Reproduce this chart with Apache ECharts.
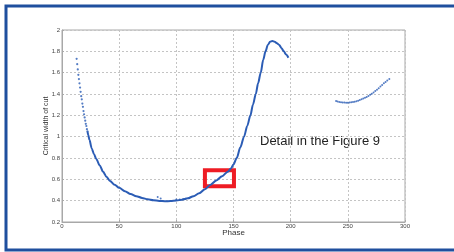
<!DOCTYPE html>
<html>
<head>
<meta charset="utf-8">
<style>
html,body{margin:0;padding:0;background:#fff;}
#c{width:454px;height:252px;}
</style>
<script src="https://cdn.jsdelivr.net/npm/echarts@6/dist/echarts.min.js"></script>
</head>
<body>
<div id="c"></div>
<script>
// Dotted head of the main curve (phase, critical width)
const headPhase = [12.8,13.3,13.8,14.3,14.8,15.3,15.8,16.3,16.8,17.3,17.8,18.3,18.8,19.3,19.8,20.3,20.8,21.3,21.8,22.3];
const headWidth = [1.73,1.68,1.63,1.58,1.54,1.50,1.46,1.42,1.38,1.35,1.31,1.28,1.24,1.21,1.18,1.15,1.12,1.10,1.07,1.05];
// Solid main curve
const mainPhase = [22.3,23,24,26,28,30,33,36,39,42,46,50,55,60,65,70,75,80,85,90,95,100,105,110,115,120,125,130,135,140,145,148,150,152.8,156,159.2,162,164.8,167,169.5,171.5,173.8,176,178,180,182,184,186,188,190,192,194,196,198];
const mainWidth = [1.05,1.015,0.97,0.89,0.835,0.79,0.73,0.67,0.622,0.585,0.55,0.52,0.488,0.462,0.442,0.426,0.413,0.404,0.398,0.395,0.396,0.401,0.409,0.422,0.442,0.47,0.508,0.55,0.59,0.63,0.672,0.705,0.74,0.8,0.9,1.0,1.1,1.2,1.3,1.4,1.5,1.6,1.72,1.80,1.86,1.89,1.897,1.89,1.875,1.86,1.83,1.80,1.77,1.74];
// Stray points near the minimum
const strayPhase = [83.7,86.3,100,103,106,108];
const strayWidth = [0.434,0.42,0.41,0.412,0.416,0.418];
// Second dotted branch
const branchPhase = [239.7,241,242.5,244,245.5,247,248.5,250,251.5,253,254.5,256,257.5,259,260.5,262,263.5,265,266.5,268,269.5,271,272.5,274,275.5,277,278.5,280,281.5,283,284.5,286.3];
const branchWidth = [1.334,1.330,1.326,1.323,1.321,1.32,1.319,1.319,1.32,1.322,1.325,1.328,1.332,1.337,1.344,1.35,1.357,1.365,1.373,1.382,1.392,1.403,1.415,1.428,1.441,1.455,1.47,1.485,1.5,1.513,1.527,1.54];
// Highlight box (phase range, width range)
const boxPhase = [125, 150.4];
const boxWidth = [0.535, 0.685];
const xTicks = {min:0, max:300, step:50};
const yTicks = {min:0.2, max:2, step:0.2};
const annotation = 'Detail in the Figure 9';

const zip = (a,b) => a.map((v,i)=>[v,b[i]]);
const blue = '#2b5cb5';
const chart = echarts.init(document.getElementById('c'));
chart.setOption({
  animation:false,
  backgroundColor:'#fff',
  grid:{left:62, right:49, top:30, bottom:30, show:true, borderColor:'#a8a8a8', borderWidth:1},
  xAxis:{type:'value', min:xTicks.min, max:xTicks.max, interval:xTicks.step,
    name:'Phase', nameLocation:'middle', nameGap:7, nameMoveOverlap:false,
    nameTextStyle:{fontFamily:'Liberation Sans', fontSize:8, color:'#333'},
    axisLine:{show:true, lineStyle:{color:'#a8a8a8'}},
    axisTick:{show:true, inside:true, length:2, lineStyle:{color:'#a8a8a8'}},
    axisLabel:{fontFamily:'Liberation Sans', fontSize:6, color:'#444', margin:1},
    splitLine:{show:true, lineStyle:{color:'#c4c4c4', type:[2,2], width:1}}},
  yAxis:{type:'value', min:yTicks.min, max:yTicks.max, interval:yTicks.step,
    name:'Critical width of cut', nameLocation:'middle', nameGap:12, nameMoveOverlap:false,
    nameTextStyle:{fontFamily:'Liberation Sans', fontSize:7, color:'#333'},
    axisLine:{show:true, lineStyle:{color:'#a8a8a8'}},
    axisTick:{show:true, inside:true, length:2, lineStyle:{color:'#a8a8a8'}},
    axisLabel:{fontFamily:'Liberation Sans', fontSize:6, color:'#444', margin:2,
      formatter:v=>String(Math.round(v*10)/10)},
    splitLine:{show:true, lineStyle:{color:'#c4c4c4', type:[2,2], width:1}}},
  series:[
    {type:'line', data:zip(mainPhase,mainWidth), smooth:0.3, smoothMonotone:'x', showSymbol:false,
     lineStyle:{color:blue, width:2}, z:3,
     markArea:{silent:true, itemStyle:{color:'rgba(0,0,0,0)', borderColor:'#ee1c24', borderWidth:4},
       data:[[{coord:[boxPhase[0],boxWidth[0]]},{coord:[boxPhase[1],boxWidth[1]]}]]}},
    {type:'scatter', data:zip(headPhase,headWidth), symbolSize:2.2, itemStyle:{color:blue}, z:3},
    {type:'scatter', data:zip(strayPhase,strayWidth), symbolSize:2, itemStyle:{color:blue}, z:3},
    {type:'scatter', data:zip(branchPhase,branchWidth), symbolSize:2, itemStyle:{color:blue}, z:3}
  ],
  graphic:[
    {type:'polyline', shape:{points:[[460,6],[6,6],[6,250],[460,250]]},
     style:{stroke:'#1f4f9e', lineWidth:3, fill:null}, z:10},
    {type:'text', left:260, top:135,
     style:{text:annotation, fontFamily:'Liberation Sans', fontSize:13, fill:'#222'}}
  ]
});
</script>
</body>
</html>
